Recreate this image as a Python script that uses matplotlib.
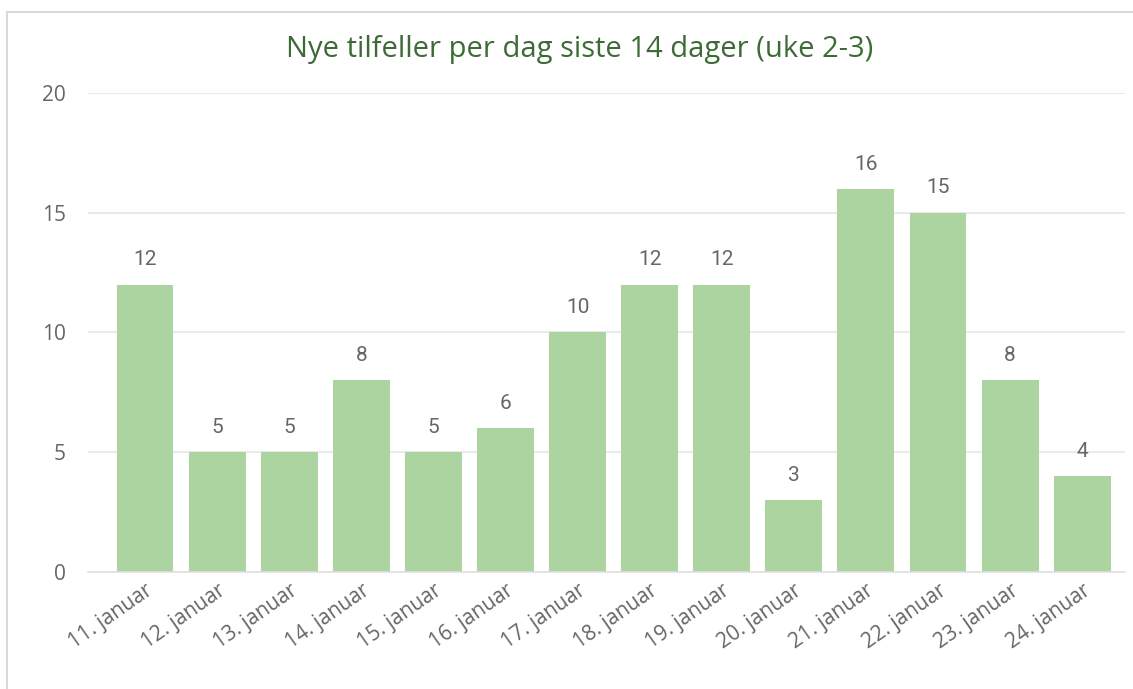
'''
Nye tilfeller per dag siste 14 dager (uke 2-3) - bar chart
'''
import matplotlib
matplotlib.use("Agg")
import matplotlib.pyplot as plt
from matplotlib.patches import Rectangle

# Data
days = ["11. januar", "12. januar", "13. januar", "14. januar", "15. januar",
        "16. januar", "17. januar", "18. januar", "19. januar", "20. januar",
        "21. januar", "22. januar", "23. januar", "24. januar"]
cases = [12, 5, 5, 8, 5, 6, 10, 12, 12, 3, 16, 15, 8, 4]
yticks = [0, 5, 10, 15, 20]

bar_color = "#acd4a0"
text_grey = "#666666"
title_green = "#3c6b35"

plt.rcParams['font.family'] = ['Open Sans', 'DejaVu Sans']

fig = plt.figure(figsize=(11.33, 6.89), dpi=100)
ax = fig.add_axes([0.0777, 0.170, 0.915, 0.695])

# thin frame around chart area (top + left visible)
fig.add_artist(Rectangle((7 / 1133, -0.1), 1.2, (689 - 12) / 689 + 0.1,
                         transform=fig.transFigure, fill=False,
                         edgecolor="#d9d9d9", linewidth=1.5))

x = list(range(len(days)))
bars = ax.bar(x, cases, width=0.79, color=bar_color, zorder=2)

# value labels above bars
for xi, v in zip(x, cases):
    ax.annotate(str(v), (xi, v), xytext=(0, 11), textcoords="offset points",
                ha="center", va="bottom", fontsize=15, color=text_grey,
                family=['Roboto', 'DejaVu Sans'])

ax.set_ylim(0, 20)
ax.set_xlim(-0.79, 13.59)
ax.set_yticks(yticks)
ax.set_xticks(x)
ax.set_xticklabels(days, rotation=35, ha="right", rotation_mode="anchor",
                   fontsize=15, color=text_grey)
ax.tick_params(axis="y", length=0, pad=16, labelsize=15, labelcolor=text_grey)
ax.tick_params(axis="x", length=0, pad=6)
ax.yaxis.grid(True, color="#e6e6e6", linewidth=1.2, zorder=0)
ax.set_axisbelow(True)
for s in ["top", "right", "left"]:
    ax.spines[s].set_visible(False)
ax.spines["bottom"].set_color("#e0e0e0")
ax.spines["bottom"].set_linewidth(1.2)

fig.text(0.512, 0.928, "Nye tilfeller per dag siste 14 dager (uke 2-3)",
         ha="center", va="center", fontsize=21, color=title_green)

fig.savefig("out.png", dpi=100)
